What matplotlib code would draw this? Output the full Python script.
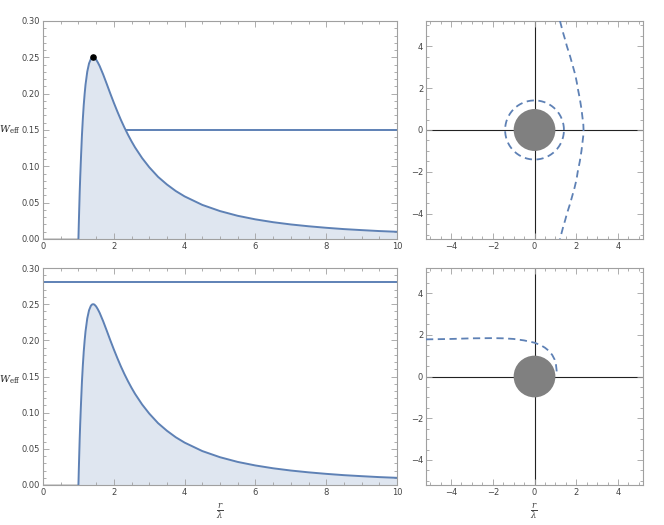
import numpy as np
import matplotlib.pyplot as plt
from matplotlib.ticker import MultipleLocator, FormatStrFormatter
from matplotlib.patches import Circle

# effective potential
r_vals = [1.0, 1.01, 1.02, 1.035, 1.05, 1.075, 1.1, 1.125, 1.15, 1.175, 1.2, 1.25, 1.3, 1.35,
          1.38, 1.414, 1.45, 1.5, 1.55, 1.6, 1.7, 1.8, 1.9, 2.0, 2.1, 2.2, 2.3, 2.4, 2.5, 2.6, 2.8,
          3.0, 3.25, 3.5, 3.75, 4.0, 4.5, 5.0, 5.5, 6.0, 6.5, 7.0, 7.5, 8.0, 8.5, 9.0, 9.5, 10.0]
w_vals = [0.0, 0.0193, 0.0373, 0.0626, 0.0843, 0.1153, 0.1434, 0.1656, 0.1844, 0.1994, 0.2122,
          0.2304, 0.2416, 0.2476, 0.2494, 0.25, 0.2495, 0.2469, 0.2428, 0.2380, 0.2263, 0.2134, 0.2002,
          0.1875, 0.1754, 0.1639, 0.1533, 0.1435, 0.1344, 0.1260, 0.1113, 0.0988, 0.0855, 0.0750,
          0.0660, 0.0586, 0.0469, 0.0384, 0.0319, 0.0270, 0.0231, 0.0200, 0.0175, 0.0154, 0.0136,
          0.0122, 0.0109, 0.0099]

peak_r, peak_w = 1.414, 0.25
energy_top = 0.15
energy_top_start = 2.37
energy_bottom = 0.28

# trajectories
orb1_x = [1.22, 1.30, 1.38, 1.47, 1.55, 1.63, 1.71, 1.78, 1.85, 1.92, 1.98, 2.03, 2.07, 2.12,
          2.17, 2.21, 2.25, 2.28, 2.31, 2.34, 2.35]
orb1_y = [5.2, 4.9, 4.6, 4.3, 4.0, 3.75, 3.5, 3.25, 3.0, 2.75, 2.5, 2.25, 2.0, 1.75,
          1.5, 1.25, 1.0, 0.75, 0.5, 0.25, 0.0]
photon_r = 1.41

orb2_x = [-5.2, -4.0, -3.0, -2.0, -1.5, -1.0, -0.5, 0.0, 0.3, 0.5, 0.7, 0.85, 0.96, 1.03, 1.06, 1.05]
orb2_y = [1.78, 1.80, 1.83, 1.84, 1.83, 1.80, 1.73, 1.62, 1.50, 1.38, 1.22, 1.03, 0.82, 0.55, 0.28, 0.05]

blue = '#5e81b5'
fill = '#dfe6f0'
frame_c = '#a0a0a0'
label_c = '#444444'

fig = plt.figure(figsize=(6.64, 5.25), dpi=100)


def style(ax, major, minor):
    ax.xaxis.set_major_locator(MultipleLocator(major[0]))
    ax.xaxis.set_minor_locator(MultipleLocator(minor[0]))
    ax.yaxis.set_major_locator(MultipleLocator(major[1]))
    ax.yaxis.set_minor_locator(MultipleLocator(minor[1]))
    ax.tick_params(which='both', direction='in', top=True, right=True, colors=frame_c,
                   labelcolor=label_c, labelsize=6, width=0.6, pad=2)
    ax.tick_params(which='major', length=4)
    ax.tick_params(which='minor', length=2)
    for s in ax.spines.values():
        s.set_color(frame_c)
        s.set_linewidth(0.8)


def potential(ax, level, start):
    ax.fill_between(r_vals, 0, w_vals, color=fill, lw=0)
    ax.plot(r_vals, w_vals, color=blue, lw=1.4)
    ax.plot([start, 10], [level, level], color=blue, lw=1.4)
    ax.set_xlim(0, 10)
    ax.set_ylim(0, 0.30)
    ax.axhline(0, color='#cccccc', lw=1.2, zorder=0)
    style(ax, (2, 0.05), (0.5, 0.01))
    ax.yaxis.set_major_formatter(FormatStrFormatter('%.2f'))


def orbit(ax):
    ax.axhline(0, color='#222222', lw=0.8, zorder=1)
    ax.axvline(0, color='#222222', lw=0.8, zorder=1)
    ax.add_patch(Circle((0, 0), 1.0, color='#808080', zorder=2, lw=0))
    ax.set_xlim(-5.2, 5.2)
    ax.set_ylim(-5.2, 5.2)
    style(ax, (2, 2), (0.5, 0.5))


dash = (0, (4, 2.5))

ax1 = fig.add_axes([0.0648, 0.5448, 0.5331, 0.4152])
potential(ax1, energy_top, energy_top_start)
ax1.scatter([peak_r], [peak_w], s=14, color='black', zorder=5)

ax2 = fig.add_axes([0.6416, 0.5448, 0.3268, 0.4152])
orbit(ax2)
t = np.linspace(0, 2 * np.pi, 200)
ax2.plot(photon_r * np.cos(t), photon_r * np.sin(t), color=blue, lw=1.3, ls=dash, zorder=3)
# the trajectory is symmetric about the x axis
ax2.plot(orb1_x + orb1_x[-2::-1], orb1_y + [-v for v in orb1_y[-2::-1]],
         color=blue, lw=1.3, ls=dash, zorder=3)

ax3 = fig.add_axes([0.0648, 0.0762, 0.5331, 0.4133])
potential(ax3, energy_bottom, 0)

ax4 = fig.add_axes([0.6416, 0.0762, 0.3268, 0.4133])
orbit(ax4)
ax4.plot(orb2_x, orb2_y, color=blue, lw=1.3, ls=dash, zorder=3)

for yy in (130, 380):
    fig.text(10 / 664, 1 - yy / 525, r'$W_{\mathrm{eff}}$', ha='center', va='center',
             fontsize=7, color='#222222', math_fontfamily='dejavuserif')
for xx in (220, 534):
    fig.text(xx / 664, 1 - 512 / 525, r'$\frac{r}{\lambda}$', ha='center', va='center',
             fontsize=9, color='#444444', math_fontfamily='dejavuserif')

fig.savefig('out.png', dpi=100)
